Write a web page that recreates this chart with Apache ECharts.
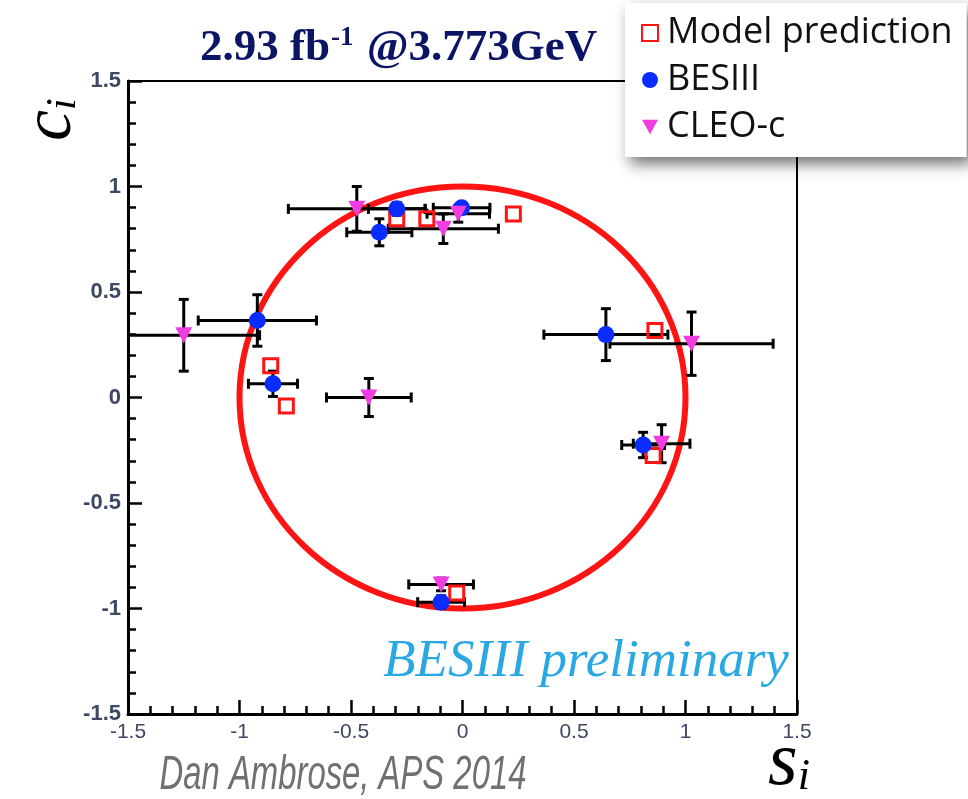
<!DOCTYPE html>
<html>
<head>
<meta charset="utf-8">
<title>Strong-phase parameters c_i, s_i</title>
<script src="https://cdn.jsdelivr.net/npm/echarts@6/dist/echarts.min.js"></script>
<style>
  html, body { margin: 0; padding: 0; background: #fff; }
  #chart { width: 968px; height: 799px; }
</style>
</head>
<body>
<div id="chart"></div>
<script>
// Axis ticks (s_i horizontal, c_i vertical)
const sTicks = ['-1.5', '-1', '-0.5', '0', '0.5', '1', '1.5'];
const cTicks = ['-1.5', '-1', '-0.5', '0', '0.5', '1', '1.5'];

// Model prediction (open squares)
const modelS = [-0.295, -0.16, 0.228, -0.86, -0.79, 0.863, 0.855, -0.026];
const modelC = [0.847, 0.847, 0.870, 0.150, -0.040, 0.318, -0.275, -0.927];

// BESIII measurements with uncertainties
const besS    = [-0.295, -0.373, -0.004, -0.920, -0.850, 0.643, 0.810, -0.096];
const besC    = [0.894, 0.783, 0.899, 0.365, 0.065, 0.298, -0.225, -0.970];
const besSErr = [0.127, 0.146, 0.127, 0.265, 0.110, 0.278, 0.096, 0.105];
const besCErr = [0.030, 0.064, 0.020, 0.122, 0.060, 0.123, 0.060, 0.030];

// CLEO-c measurements with uncertainties
const cleoS    = [-0.474, -0.086, -0.019, -1.250, -0.420, 1.027, 0.893, -0.096];
const cleoC    = [0.894, 0.800, 0.871, 0.295, 0.000, 0.255, -0.219, -0.886];
const cleoSErr = [0.307, 0.247, 0.140, 0.340, 0.190, 0.366, 0.127, 0.145];
const cleoCErr = [0.106, 0.070, 0.040, 0.170, 0.090, 0.150, 0.090, 0.030];

// Physical boundary c^2 + s^2 = 1 : centre and radius
const boundary = [[0, 0, 1]];

const zip = (...cols) => cols[0].map((_, i) => cols.map(c => c[i]));

const RED = '#ff1414';
const BLUE = '#0a2dff';
const MAGENTA = '#f03de0';
const TRI = 'path://M0,0 L10,0 L5,9 Z';
const SERIF = '"Liberation Serif", "Times New Roman", serif';

function renderErrors(params, api) {
  const s = api.value(0), c = api.value(1), se = api.value(2), ce = api.value(3);
  const l = api.coord([s - se, c]), r = api.coord([s + se, c]);
  const b = api.coord([s, c - ce]), t = api.coord([s, c + ce]);
  const cap = 5;
  const st = { stroke: '#000', lineWidth: 3 };
  const seg = (x1, y1, x2, y2) => ({ type: 'line', shape: { x1, y1, x2, y2 }, style: st });
  return {
    type: 'group',
    children: [
      seg(l[0], l[1], r[0], r[1]),
      seg(b[0], b[1], t[0], t[1]),
      seg(l[0], l[1] - cap, l[0], l[1] + cap),
      seg(r[0], r[1] - cap, r[0], r[1] + cap),
      seg(b[0] - cap, b[1], b[0] + cap, b[1]),
      seg(t[0] - cap, t[1], t[0] + cap, t[1])
    ]
  };
}

function renderBoundary(params, api) {
  const ctr = api.coord([api.value(0), api.value(1)]);
  const sz = api.size([api.value(2), api.value(2)]);
  return {
    type: 'ellipse',
    shape: { cx: ctr[0], cy: ctr[1], rx: sz[0], ry: sz[1] },
    style: { fill: 'none', stroke: RED, lineWidth: 6 },
    silent: true
  };
}

// Condensed credit line, placed below the frame
function renderCredit(params, api) {
  return {
    type: 'text', x: 343, y: 775, scaleX: 0.67, scaleY: 1, silent: true,
    style: {
      text: 'Dan Ambrose, APS 2014', align: 'center', verticalAlign: 'middle',
      font: 'italic 49px "Liberation Sans", Arial, sans-serif', fill: '#707070'
    }
  };
}

const tickLabel = (list) => (v) => {
  const k = Math.round((v + 1.5) / 0.5);
  return list[k] !== undefined ? list[k] : '';
};

// Tick-only axes shifted into the frame so the ticks sit on the inner side
// of the bottom and left axis lines (major 0.5, minor 0.1).
function tickAxis(position, step, len) {
  return {
    type: 'value', min: -1.5, max: 1.5, interval: step, position: position, offset: -len,
    axisLine: { show: false, onZero: false },
    axisTick: { show: true, inside: false, length: len, lineStyle: { color: '#000', width: 2.5 } },
    axisLabel: { show: false }, splitLine: { show: false }, silent: true
  };
}

const chart = echarts.init(document.getElementById('chart'), null, { renderer: 'canvas' });

chart.setOption({
  animation: false,
  backgroundColor: '#fff',
  grid: { left: 128, right: 171, top: 81, bottom: 85, containLabel: false, outerBoundsMode: 'none' },
  xAxis: [
    {
      type: 'value', min: -1.5, max: 1.5, interval: 0.5, position: 'bottom',
      axisLine: { show: true, onZero: false, lineStyle: { color: '#000', width: 3 } },
      axisTick: { show: false },
      splitLine: { show: false },
      axisLabel: {
        margin: 8, color: '#3e4864', fontSize: 21,
        fontFamily: '"Liberation Sans", Arial, sans-serif',
        formatter: tickLabel(sTicks), showMinLabel: true, showMaxLabel: true
      },
      name: '{s|s}{i|i}', nameLocation: 'end', nameGap: -8, nameMoveOverlap: false,
      nameTextStyle: {
        align: 'center', verticalAlign: 'top', padding: [12, 0, 0, 0],
        rich: {
          s: { fontFamily: SERIF, fontStyle: 'italic', fontSize: 76, color: '#000' },
          i: { fontFamily: SERIF, fontStyle: 'italic', fontSize: 44, color: '#000', padding: [26, 0, 0, 0] }
        }
      }
    },
    {
      type: 'value', min: -1.5, max: 1.5, position: 'top',
      axisLine: { show: true, onZero: false, lineStyle: { color: '#000', width: 2 } },
      axisTick: { show: false }, axisLabel: { show: false }, splitLine: { show: false }
    },
    tickAxis('bottom', 0.5, 14),
    tickAxis('bottom', 0.1, 8)
  ],
  yAxis: [
    {
      type: 'value', min: -1.5, max: 1.5, interval: 0.5, position: 'left',
      axisLine: { show: true, onZero: false, lineStyle: { color: '#000', width: 3 } },
      axisTick: { show: false },
      splitLine: { show: false },
      axisLabel: {
        margin: 7, color: '#3e4864', fontSize: 22, fontWeight: 'bold',
        fontFamily: '"Liberation Sans", Arial, sans-serif',
        formatter: tickLabel(cTicks), showMinLabel: true, showMaxLabel: true
      },
      name: '{c|c}{i|i}', nameLocation: 'end', nameRotate: 90, nameGap: -60, nameMoveOverlap: false,
      nameTextStyle: {
        padding: [0, 0, 152, 0],
        rich: {
          c: { fontFamily: SERIF, fontStyle: 'italic', fontSize: 70, color: '#000' },
          i: { fontFamily: SERIF, fontStyle: 'italic', fontSize: 42, color: '#000', padding: [24, 0, 0, 0] }
        }
      }
    },
    {
      type: 'value', min: -1.5, max: 1.5, position: 'right',
      axisLine: { show: true, onZero: false, lineStyle: { color: '#000', width: 2 } },
      axisTick: { show: false }, axisLabel: { show: false }, splitLine: { show: false }
    },
    tickAxis('left', 0.5, 14),
    tickAxis('left', 0.1, 8)
  ],
  legend: {
    orient: 'vertical',
    left: 625, top: 3,
    padding: [12, 14, 12, 16],
    itemGap: 11,
    itemWidth: 16, itemHeight: 16,
    backgroundColor: '#fff',
    shadowBlur: 14, shadowColor: 'rgba(0,0,0,0.55)', shadowOffsetX: 5, shadowOffsetY: 7,
    textStyle: {
      fontFamily: '"Open Sans", "Noto Sans", sans-serif',
      fontSize: 36, color: '#111', lineHeight: 36, padding: [0, 0, 0, 4]
    },
    data: ['Model prediction', 'BESIII', 'CLEO-c']
  },
  graphic: [
    {
      type: 'text', left: 200, top: 25, z: 10,
      style: {
        text: '{a|2.93 fb}{b|-1}{a| @3.773GeV}',
        fill: '#0c1466',
        rich: {
          a: { fontFamily: SERIF, fontWeight: 'bold', fontSize: 45, fill: '#0c1466' },
          b: { fontFamily: SERIF, fontWeight: 'bold', fontSize: 27, fill: '#0c1466', verticalAlign: 'top', padding: [0, 2, 20, 1] }
        }
      }
    },
    {
      type: 'text', x: 586, y: 662, z: 10,
      style: {
        text: 'BESIII preliminary', align: 'center', verticalAlign: 'middle',
        font: 'italic 53px "Liberation Serif", "Times New Roman", serif', fill: '#2aa8e4'
      }
    }
  ],
  series: [
    {
      name: 'boundary', type: 'custom', silent: true, z: 1,
      renderItem: renderBoundary, data: boundary
    },
    {
      name: 'BESIII errors', type: 'custom', silent: true, clip: true, z: 2,
      renderItem: renderErrors, data: zip(besS, besC, besSErr, besCErr)
    },
    {
      name: 'CLEO-c errors', type: 'custom', silent: true, clip: true, z: 2,
      renderItem: renderErrors, data: zip(cleoS, cleoC, cleoSErr, cleoCErr)
    },
    {
      name: 'credit', type: 'custom', silent: true, clip: false, z: 10,
      renderItem: renderCredit, data: [[0, 0]]
    },
    {
      name: 'Model prediction', type: 'scatter', z: 3,
      symbol: 'rect', symbolSize: 14,
      itemStyle: { color: 'rgba(255,255,255,0)', borderColor: RED, borderWidth: 3, opacity: 1 },
      data: zip(modelS, modelC)
    },
    {
      name: 'BESIII', type: 'scatter', z: 4,
      symbol: 'circle', symbolSize: 17,
      itemStyle: { color: BLUE, opacity: 1 },
      data: zip(besS, besC)
    },
    {
      name: 'CLEO-c', type: 'scatter', z: 5,
      symbol: TRI, symbolSize: [17, 16],
      itemStyle: { color: MAGENTA, opacity: 1 },
      data: zip(cleoS, cleoC)
    }
  ]
});
</script>
</body>
</html>
